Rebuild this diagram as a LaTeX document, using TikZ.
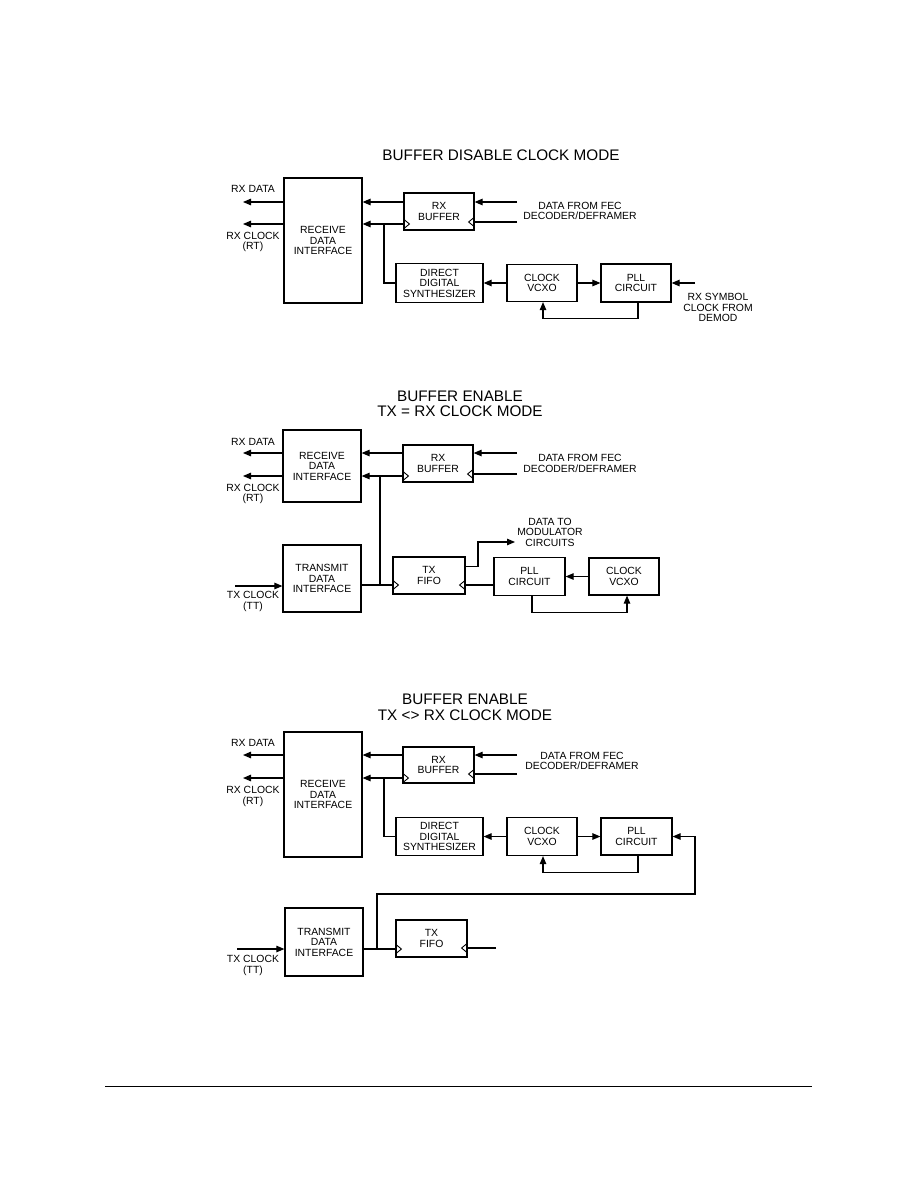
\documentclass[tikz,border=0pt]{standalone}
\usepackage{fontspec}
\setmainfont{Liberation Sans}
\usetikzlibrary{arrows.meta}

\begin{document}
\begin{tikzpicture}[x=1pt,y=-1pt,
  blk/.style={draw,line width=1.2pt,align=center,inner sep=0pt,
    font=\fontsize{10.4}{10.5}\selectfont},
  lbl/.style={align=center,inner sep=0pt,font=\fontsize{10.4}{10.5}\selectfont},
  ttl/.style={align=center,inner sep=0pt,font=\fontsize{15.3}{15.5}\selectfont},
  sig/.style={line width=1.1pt,-{Triangle[length=8pt,width=6.5pt]}},
  wire/.style={line width=1.1pt},
  clkL/.pic={\draw[line width=0.9pt] (0,-5) -- (6,0) -- (0,5);},
  clkR/.pic={\draw[line width=0.9pt] (0,-5) -- (-6,0) -- (0,5);}]
\useasboundingbox (0,0) rectangle (918,1188);

% buffer disable
\node[ttl] (ttlA) at (501,155) {BUFFER DISABLE CLOCK MODE};
\node[blk,minimum width=78,minimum height=125] (rdiA) at (323,240.5) {RECEIVE\\DATA\\INTERFACE};
\node[blk,minimum width=70,minimum height=37] (bufA) at (439,211.5) {RX\\BUFFER};
\node[blk,minimum width=87,minimum height=39] (ddsA) at (439.5,283) {DIRECT\\DIGITAL\\SYNTHESIZER};
\node[blk,minimum width=70,minimum height=37] (vcxoA) at (542,283) {CLOCK\\VCXO};
\node[blk,minimum width=70,minimum height=38] (pllA) at (636,283) {PLL\\CIRCUIT};
\node[lbl] (rxdA) at (253,189) {RX DATA};
\node[lbl] (rxcA) at (253,242) {RX CLOCK\\(RT)};
\node[lbl] (fecA) at (580,211) {DATA FROM FEC\\DECODER/DEFRAMER};
\node[lbl] (symA) at (718,307.5) {RX SYMBOL\\CLOCK FROM\\DEMOD};
\coordinate (oDA) at (243,202);
\coordinate (oCA) at (243,224);
\coordinate (iDA) at (517,202);
\coordinate (iCA) at (517,222);
\coordinate (jA) at (384,224);
\coordinate (iSA) at (695,283);
\draw[sig] (rdiA.west |- oDA) -- (oDA);
\draw[sig] (rdiA.west |- oCA) -- (oCA);
\draw[sig] (bufA.west |- oDA) -- (rdiA.east |- oDA);
\draw[sig] (bufA.west |- oCA) -- (rdiA.east |- oCA);
\pic at (bufA.west |- oCA) {clkL};
\draw[wire] (jA) |- (ddsA.west);
\draw[sig] (iDA) -- (bufA.east |- iDA);
\draw[wire] (iCA) -- (bufA.east |- iCA);
\pic at (bufA.east |- iCA) {clkR};
\draw[sig] (vcxoA.west) -- (ddsA.east);
\draw[sig] (vcxoA.east) -- (pllA.west);
\draw[sig] (iSA) -- (pllA.east);
\draw[sig] ([xshift=2pt]pllA.south) -- ++(0,16) -| ([xshift=1pt]vcxoA.south);

% buffer enable, tx = rx
\node[ttl] (ttlB) at (460,404) {BUFFER ENABLE\\TX = RX CLOCK MODE};
\node[blk,minimum width=78,minimum height=72] (rdiB) at (322,466) {RECEIVE\\DATA\\INTERFACE};
\node[blk,minimum width=70,minimum height=37] (bufB) at (438,463.5) {RX\\BUFFER};
\node[blk,minimum width=78,minimum height=67] (tdiB) at (322,578.5) {TRANSMIT\\DATA\\INTERFACE};
\node[blk,minimum width=72,minimum height=37] (fifoB) at (429,575.5) {TX\\FIFO};
\node[blk,minimum width=71,minimum height=38] (pllB) at (529.5,576.5) {PLL\\CIRCUIT};
\node[blk,minimum width=70,minimum height=37] (vcxoB) at (624,576.5) {CLOCK\\VCXO};
\node[lbl] (rxdB) at (253,442) {RX DATA};
\node[lbl] (rxcB) at (253,494) {RX CLOCK\\(RT)};
\node[lbl] (txcB) at (253,601.5) {TX CLOCK\\(TT)};
\node[lbl] (fecB) at (580,463.5) {DATA FROM FEC\\DECODER/DEFRAMER};
\node[lbl] (modB) at (550,532) {DATA TO\\MODULATOR\\CIRCUITS};
\coordinate (oDB) at (243,453);
\coordinate (oCB) at (243,476);
\coordinate (iDB) at (517,453);
\coordinate (iCB) at (517,474);
\coordinate (jB) at (380,476);
\coordinate (fB) at (380,585);
\coordinate (iTB) at (235,586);
\coordinate (kB) at (478,542);
\coordinate (oMB) at (515,542);
\draw[sig] (rdiB.west |- oDB) -- (oDB);
\draw[sig] (rdiB.west |- oCB) -- (oCB);
\draw[sig] (bufB.west |- oDB) -- (rdiB.east |- oDB);
\draw[sig] (bufB.west |- oCB) -- (rdiB.east |- oCB);
\pic at (bufB.west |- oCB) {clkL};
\draw[sig] (iDB) -- (bufB.east |- iDB);
\draw[wire] (iCB) -- (bufB.east |- iCB);
\pic at (bufB.east |- iCB) {clkR};
\draw[wire] (jB) -- (fB);
\draw[wire] (tdiB.east |- fB) -- (fifoB.west |- fB);
\pic at (fifoB.west |- fB) {clkL};
\draw[sig] (iTB) -- (tdiB.west |- iTB);
\draw[sig] ([yshift=9pt]fifoB.east) -| (kB) -- (oMB);
\draw[wire] (pllB.west |- fB) -- (fifoB.east |- fB);
\pic at (fifoB.east |- fB) {clkR};
\draw[sig] (vcxoB.west) -- (pllB.east);
\draw[sig] ([xshift=2.5pt]pllB.south) -- ++(0,16) -| ([xshift=3pt]vcxoB.south);

% buffer enable, tx <> rx
\node[ttl] (ttlC) at (465,707.5) {BUFFER ENABLE\\TX <> RX CLOCK MODE};
\node[blk,minimum width=78,minimum height=125] (rdiC) at (323,794.5) {RECEIVE\\DATA\\INTERFACE};
\node[blk,minimum width=71,minimum height=36] (bufC) at (438.5,765) {RX\\BUFFER};
\node[blk,minimum width=87,minimum height=38] (ddsC) at (439.5,836.5) {DIRECT\\DIGITAL\\SYNTHESIZER};
\node[blk,minimum width=70,minimum height=38] (vcxoC) at (542,836.5) {CLOCK\\VCXO};
\node[blk,minimum width=71,minimum height=37] (pllC) at (636.5,836.5) {PLL\\CIRCUIT};
\node[blk,minimum width=78,minimum height=68] (tdiC) at (324,942) {TRANSMIT\\DATA\\INTERFACE};
\node[blk,minimum width=71,minimum height=37] (fifoC) at (431.5,938.5) {TX\\FIFO};
\node[lbl] (rxdC) at (253,743) {RX DATA};
\node[lbl] (rxcC) at (253,796.5) {RX CLOCK\\(RT)};
\node[lbl] (fecC) at (582,761) {DATA FROM FEC\\DECODER/DEFRAMER};
\node[lbl] (txcC) at (253,965.5) {TX CLOCK\\(TT)};
\coordinate (oDC) at (243,755);
\coordinate (oCC) at (243,778);
\coordinate (iDC) at (517,755);
\coordinate (iCC) at (517,774);
\coordinate (jC) at (384,778);
\coordinate (fC) at (377,949);
\coordinate (rtC) at (695,894);
\coordinate (iTC) at (237,949);
\coordinate (iFC) at (496,948);
\draw[sig] (rdiC.west |- oDC) -- (oDC);
\draw[sig] (rdiC.west |- oCC) -- (oCC);
\draw[sig] (bufC.west |- oDC) -- (rdiC.east |- oDC);
\draw[sig] (bufC.west |- oCC) -- (rdiC.east |- oCC);
\pic at (bufC.west |- oCC) {clkL};
\draw[sig] (iDC) -- (bufC.east |- iDC);
\draw[wire] (iCC) -- (bufC.east |- iCC);
\pic at (bufC.east |- iCC) {clkR};
\draw[wire] (jC) |- (ddsC.west);
\draw[sig] (vcxoC.west) -- (ddsC.east);
\draw[sig] (vcxoC.east) -- (pllC.west);
\draw[sig] ([xshift=1.5pt]pllC.south) -- ++(0,17) -| ([xshift=1pt]vcxoC.south);
\draw[sig] (fC) |- (rtC) |- (pllC.east);
\draw[sig] (iTC) -- (tdiC.west |- iTC);
\draw[wire] (tdiC.east |- fC) -- (fifoC.west |- fC);
\pic at (fifoC.west |- fC) {clkL};
\draw[wire] (iFC) -- (fifoC.east |- iFC);
\pic at (fifoC.east |- iFC) {clkR};

% page rule
\coordinate (rl) at (105,1086);
\coordinate (rr) at (812,1086);
\draw[line width=1pt] (rl) -- (rr);
\end{tikzpicture}
\end{document}
